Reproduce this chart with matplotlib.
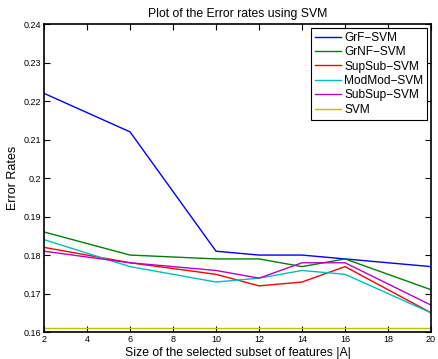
import matplotlib
matplotlib.use("Agg")
import matplotlib.pyplot as plt

plt.rcParams['font.family'] = ['Liberation Sans', 'DejaVu Sans']

sizes = [2, 6, 10, 12, 14, 16, 20]
grf_svm = [0.222, 0.212, 0.181, 0.180, 0.180, 0.179, 0.177]
grnf_svm = [0.186, 0.180, 0.179, 0.179, 0.177, 0.179, 0.171]
supsub_svm = [0.182, 0.178, 0.175, 0.172, 0.173, 0.177, 0.165]
modmod_svm = [0.184, 0.177, 0.173, 0.174, 0.176, 0.175, 0.165]
subsup_svm = [0.181, 0.178, 0.176, 0.174, 0.178, 0.178, 0.167]
svm = [0.161, 0.161, 0.161, 0.161, 0.161, 0.161, 0.161]

labels = ['GrF\u2212SVM', 'GrNF\u2212SVM', 'SupSub\u2212SVM',
          'ModMod\u2212SVM', 'SubSup\u2212SVM', 'SVM']
colors = ['#0000ff', '#008000', '#ff0000', '#00bfbf', '#bf00bf', '#bfbf00']
series = [grf_svm, grnf_svm, supsub_svm, modmod_svm, subsup_svm, svm]

fig = plt.figure(figsize=(4.38, 3.59), dpi=100)
ax = fig.add_axes([0.1005, 0.075, 0.8836, 0.858])

for vals, lab, col in zip(series, labels, colors):
    ax.plot(sizes, vals, color=col, lw=1.0, label=lab)

ax.set_xlim(2, 20)
ax.set_ylim(0.16, 0.24)
ax.set_xticks(range(2, 21, 2))
ax.set_yticks([0.16, 0.17, 0.18, 0.19, 0.20, 0.21, 0.22, 0.23, 0.24])
ax.set_yticklabels(['0.16', '0.17', '0.18', '0.19', '0.2', '0.21', '0.22', '0.23', '0.24'])
ax.tick_params(direction='in', top=True, right=True, labelsize=6.5, length=4, width=0.8, pad=2)
for s in ax.spines.values():
    s.set_linewidth(1.2)

ax.set_title('Plot of the Error rates using SVM', fontsize=8.8, pad=5)
ax.set_xlabel('Size of the selected subset of features |A|', fontsize=8.8, labelpad=2)
ax.set_ylabel('Error Rates', fontsize=9, labelpad=3)

leg = ax.legend(loc='upper right', fontsize=8.6, fancybox=False, framealpha=1,
                edgecolor='black', borderaxespad=0.3, handlelength=2.2,
                handletextpad=0.25, labelspacing=0.2, borderpad=0.35)
leg.get_frame().set_linewidth(0.8)

fig.savefig('out.png', dpi=100)
